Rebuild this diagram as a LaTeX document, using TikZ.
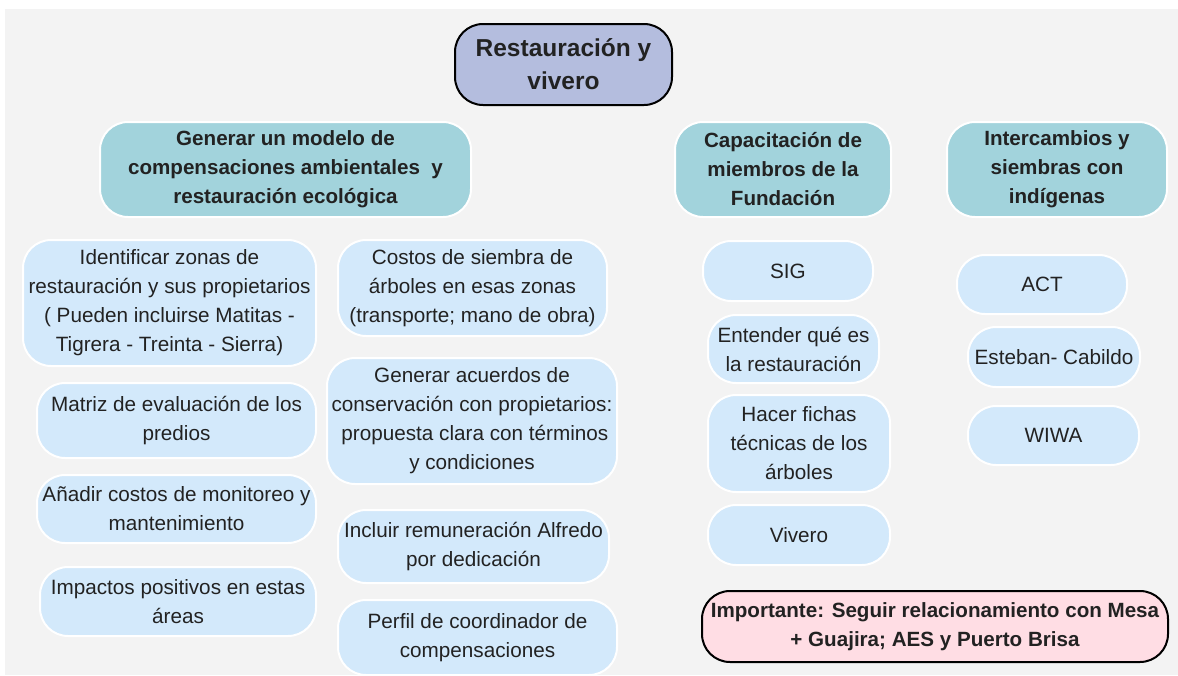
\documentclass[tikz,border=0pt]{standalone}
\usepackage{fontspec}
\setmainfont{Liberation Sans}
\usepackage{xcolor}
\usetikzlibrary{positioning}

\definecolor{bggray}{HTML}{F3F3F3}
\definecolor{rootfill}{HTML}{B4BDDE}
\definecolor{catfill}{HTML}{A2D3DC}
\definecolor{itemfill}{HTML}{D3E9FB}
\definecolor{notefill}{HTML}{FFDDE4}
\definecolor{txt}{HTML}{222222}

\begin{document}
\begin{tikzpicture}[x=1pt, y=-1pt,
    box/.style={rounded corners=28pt, align=center, inner sep=0pt, text=txt},
    rootbox/.style={box, fill=rootfill, draw=black, line width=2pt,
        font=\bfseries\fontsize{24.5}{33}\selectfont},
    catbox/.style={box, fill=catfill, draw=white, line width=2pt,
        font=\bfseries\fontsize{20.6}{29}\selectfont},
    itembox/.style={box, fill=itemfill, draw=white, line width=2pt,
        font=\fontsize{20.7}{29}\selectfont},
    notebox/.style={box, fill=notefill, draw=black, line width=2pt,
        font=\bfseries\fontsize{20.6}{29}\selectfont}]

\useasboundingbox (0,0) rectangle (1178,675);
\fill[bggray] (5,9) rectangle (1178,675);

% Root
\node[rootbox, minimum width=217pt, minimum height=81pt] (root) at (563.5,64.5)
    {Restauración y\\vivero};

% Categories
\node[catbox, minimum width=371pt, minimum height=95pt] (modelo) at (285.5,169.5)
    {Generar un modelo de\\compensaciones ambientales\ \ y\\restauración ecológica};
\node[catbox, minimum width=216pt, minimum height=95pt] (capac) at (783,169.5)
    {Capacitación de\\miembros de la\\Fundación};
\node[catbox, minimum width=220pt, minimum height=95pt] (interc) at (1057,169.5)
    {Intercambios y\\siembras con\\indígenas};

% Left column
\node[itembox, minimum width=293pt, minimum height=126pt] (zonas) at (169.5,303)
    {Identificar zonas de\\restauración y sus propietarios\\( Pueden incluirse Matitas -\\Tigrera - Treinta - Sierra)};
\node[itembox, minimum width=279pt, minimum height=75pt] (matriz) at (176.5,420.5)
    {Matriz de evaluación de los\\predios};
\node[itembox, minimum width=279pt, minimum height=68pt] (monit) at (176.5,509)
    {Añadir costos de monitoreo y\\mantenimiento};
\node[itembox, minimum width=276pt, minimum height=69pt] (impact) at (178,601.5)
    {Impactos positivos en estas\\áreas};

% Middle column
\node[itembox, minimum width=269pt, minimum height=96pt] (costos) at (472.5,288)
    {Costos de siembra de\\árboles en esas zonas\\(transporte; mano de obra)};
\node[itembox, minimum width=290pt, minimum height=126pt] (acuerdos) at (472,421)
    {Generar acuerdos de\\conservación con propietarios:\\\ propuesta clara con términos\\y condiciones};
\node[itembox, minimum width=271pt, minimum height=73pt] (remun) at (473.5,546.5)
    {Incluir remuneración Alfredo\\por dedicación};
\node[itembox, minimum width=279pt, minimum height=75pt] (perfil) at (477.5,637.5)
    {Perfil de coordinador de\\compensaciones};

% Capacitacion column
\node[itembox, minimum width=170pt, minimum height=60pt] (sig) at (788,271) {SIG};
\node[itembox, minimum width=171pt, minimum height=68pt] (entender) at (793.5,349)
    {Entender qué es\\la restauración};
\node[itembox, minimum width=182pt, minimum height=97pt] (fichas) at (799,443.5)
    {Hacer fichas\\técnicas de los\\árboles};
\node[itembox, minimum width=182pt, minimum height=60pt] (vivero) at (799,535) {Vivero};

% Intercambios column
\node[itembox, minimum width=170pt, minimum height=59pt] (act) at (1042,284.5) {ACT};
\node[itembox, minimum width=172pt, minimum height=60pt] (cabildo) at (1054,357) {Esteban- Cabildo};
\node[itembox, minimum width=171pt, minimum height=59pt] (wiwa) at (1053.5,435.5) {WIWA};

% Note
\node[notebox, minimum width=466pt, minimum height=71pt] (nota) at (935,626.5)
    {Importante: Seguir relacionamiento con Mesa\\+ Guajira; AES y Puerto Brisa};
\end{tikzpicture}
\end{document}
